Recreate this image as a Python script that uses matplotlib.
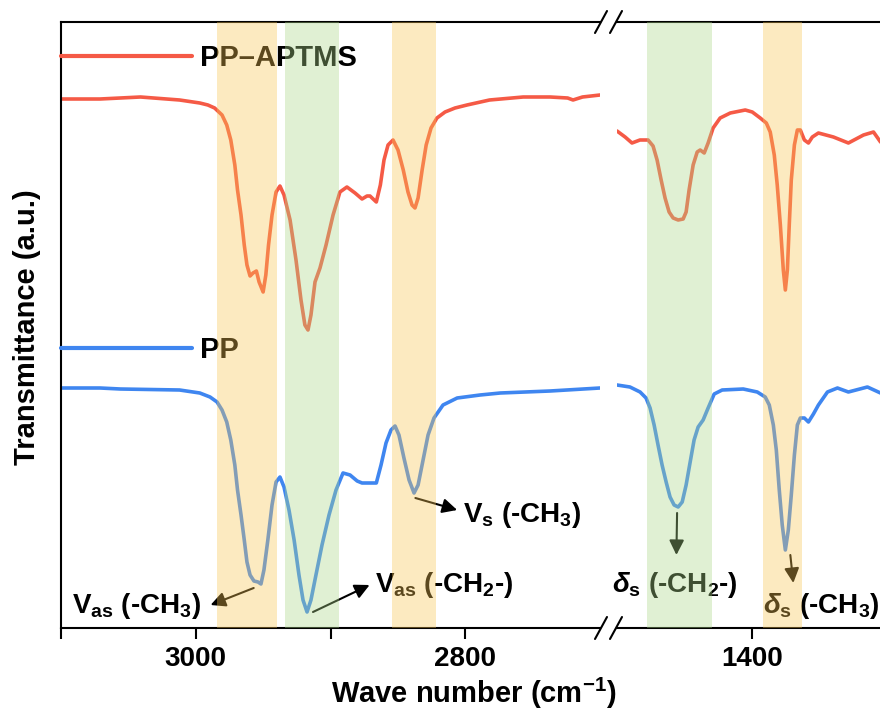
import matplotlib
matplotlib.use("Agg")
import matplotlib.pyplot as plt
from matplotlib.lines import Line2D

plt.rcParams["font.family"] = ["Liberation Sans", "DejaVu Sans"]
plt.rcParams["font.weight"] = "bold"
plt.rcParams["mathtext.fontset"] = "custom"
plt.rcParams["mathtext.rm"] = "Liberation Sans:bold"
plt.rcParams["mathtext.bf"] = "Liberation Sans:bold"
plt.rcParams["mathtext.it"] = "Liberation Sans:bold:italic"
plt.rcParams["lines.solid_joinstyle"] = "round"
plt.rcParams["lines.solid_capstyle"] = "round"

RED = "#F55A46"
BLUE = "#3F86F0"

# C-H stretching region (3100-2700 cm-1)
wn_apt_hi = [3100, 3071, 3041, 3012, 2997, 2991, 2986, 2980.5, 2977, 2974, 2971, 2969,
             2966.4, 2964, 2962, 2959.7, 2957.5, 2955, 2953, 2950, 2948, 2946, 2943.4,
             2940.4, 2937.5, 2934.5, 2930, 2925.6, 2921.9, 2919, 2916.7, 2914.5, 2911.5,
             2907.8, 2903.3, 2898.1, 2893, 2887.8, 2881.8, 2876.6, 2872.9, 2870.7, 2866,
             2863, 2860.3, 2857.3, 2853.6, 2849.9, 2846, 2842.5, 2839.5, 2837.3, 2835,
             2832, 2829, 2825.4, 2821, 2815, 2807.6, 2798.7, 2782, 2757, 2737, 2724,
             2720, 2713, 2700]
apt_hi = [5.29, 5.29, 5.31, 5.28, 5.25, 5.23, 5.20, 5.13, 5.03, 4.88, 4.63, 4.38,
          4.13, 3.83, 3.63, 3.52, 3.55, 3.57, 3.46, 3.36, 3.53, 3.83, 4.13,
          4.36, 4.42, 4.33, 4.08, 3.68, 3.28, 3.03, 2.98, 3.13, 3.46,
          3.60, 3.83, 4.13, 4.36, 4.41, 4.35, 4.29, 4.32, 4.32, 4.26,
          4.43, 4.68, 4.83, 4.88, 4.78, 4.58, 4.36, 4.23, 4.20, 4.30,
          4.58, 4.83, 5.00, 5.10, 5.16, 5.20, 5.23, 5.28, 5.31, 5.31, 5.30,
          5.28, 5.31, 5.33]

wn_pp_hi = [3100, 3071, 3056, 3012, 2997, 2989.4, 2984.2, 2980.5, 2977, 2974, 2971, 2969,
            2966.4, 2964, 2962, 2959.7, 2956.8, 2953.8, 2951.6, 2949.4, 2946.5, 2943.4,
            2940.4, 2937.5, 2934.5, 2930.8, 2927, 2923.4, 2920.4, 2917.4, 2914.5, 2910.8,
            2906.3, 2901.1, 2895.9, 2890.7, 2885.5, 2880.2, 2876.6, 2870.7, 2866, 2862.5,
            2858.8, 2855.1, 2852.1, 2849.2, 2845.5, 2841.7, 2838, 2835, 2831.3, 2827.6,
            2823.2, 2816.5, 2806, 2789, 2774, 2737, 2700]
pp_hi = [2.40, 2.40, 2.39, 2.38, 2.35, 2.31, 2.26, 2.18, 2.06, 1.88, 1.63, 1.38,
         1.13, 0.88, 0.66, 0.53, 0.47, 0.46, 0.44, 0.58, 0.88, 1.23,
         1.46, 1.51, 1.41, 1.18, 0.88, 0.53, 0.28, 0.16, 0.28, 0.53,
         0.83, 1.13, 1.38, 1.55, 1.53, 1.47, 1.45, 1.45, 1.45, 1.63,
         1.85, 1.98, 2.02, 1.93, 1.70, 1.48, 1.35, 1.43, 1.68, 1.93,
         2.10, 2.23, 2.30, 2.33, 2.35, 2.37, 2.40]

# C-H bending region (1500-1300 cm-1)
wn_apt_lo = [1500, 1494, 1488.9, 1483, 1477, 1473.3, 1470.3, 1467.3, 1464.4, 1461.4,
             1458.4, 1454.7, 1451, 1448.8, 1446.6, 1443.6, 1440.6, 1438.4, 1435.4, 1432.5,
             1428.8, 1423.6, 1416.1, 1405, 1399.8, 1393.9, 1389.4, 1386.5, 1383.5, 1381.3,
             1379, 1376.8, 1375.3, 1373.8, 1372.4, 1370.9, 1368.6, 1366.4, 1364.2, 1361.2,
             1358.2, 1355.3, 1350.8, 1339.7, 1328.6, 1317.4, 1310, 1304.8, 1300]
apt_lo = [4.97, 4.91, 4.85, 4.88, 4.88, 4.82, 4.68, 4.48, 4.30, 4.16,
          4.10, 4.08, 4.09, 4.16, 4.38, 4.63, 4.76, 4.78, 4.75, 4.85,
          5.00, 5.10, 5.15, 5.18, 5.16, 5.10, 5.05, 4.96, 4.73, 4.43,
          4.03, 3.58, 3.38, 3.58, 4.03, 4.48, 4.83, 4.98, 4.98, 4.88,
          4.85, 4.91, 4.95, 4.91, 4.85, 4.93, 4.96, 4.86, 4.83]

wn_pp_lo = [1500, 1490.4, 1482.9, 1478.5, 1475.5, 1472.5, 1469.6, 1466.6, 1463.6, 1460.7,
            1457.7, 1454.7, 1451.7, 1448.8, 1445.8, 1442.9, 1439.9, 1436.2, 1432.5, 1428,
            1422.1, 1406.5, 1396.1, 1390.2, 1387.2, 1384.2, 1382, 1379.8, 1377.6, 1375.3,
            1373.1, 1370.9, 1368.6, 1366.4, 1364.2, 1361.2, 1358.2, 1354.5, 1350.8, 1344.1,
            1336.7, 1328.6, 1314.5, 1304.8]
pp_lo = [2.43, 2.41, 2.36, 2.30, 2.20, 2.03, 1.83, 1.63, 1.46, 1.31,
         1.23, 1.21, 1.26, 1.43, 1.66, 1.88, 2.01, 2.08, 2.20, 2.34,
         2.38, 2.39, 2.36, 2.31, 2.23, 2.03, 1.78, 1.38, 1.03, 0.78,
         0.98, 1.33, 1.73, 2.03, 2.10, 2.10, 2.06, 2.14, 2.23, 2.36,
         2.40, 2.36, 2.41, 2.35]

# highlighted bands: (high, low, colour)
bands_hi = [(2984, 2940, "#F9C654"), (2934, 2894, "#ACD78A"), (2854, 2822, "#F9C654")]
bands_lo = [(1478, 1430, "#ACD78A"), (1392, 1363, "#F9C654")]

left_ticks = [3100, 3000, 2900, 2800]
left_labels = ["", "3000", "", "2800"]
right_ticks = [1400, 1300]
right_labels = ["1400", ""]

fig = plt.figure(figsize=(8.8, 7.11), dpi=100)
ax1 = fig.add_axes([61 / 880, 83 / 711, 539 / 880, 606 / 711])
ax2 = fig.add_axes([617 / 880, 83 / 711, 270 / 880, 606 / 711])

l_apt, = ax1.plot(wn_apt_hi, apt_hi, color=RED, lw=2.6, label="PP\u2013APTMS")
l_pp, = ax1.plot(wn_pp_hi, pp_hi, color=BLUE, lw=2.6, label="PP")
ax2.plot(wn_apt_lo, apt_lo, color=RED, lw=2.6)
ax2.plot(wn_pp_lo, pp_lo, color=BLUE, lw=2.6)

for hi, lo, c in bands_hi:
    ax1.axvspan(lo, hi, color=c, alpha=0.37, lw=0, zorder=6)
for hi, lo, c in bands_lo:
    ax2.axvspan(lo, hi, color=c, alpha=0.37, lw=0, zorder=6)

ax1.set_xlim(3100, 2700)
ax2.set_xlim(1500, 1300)
for ax in (ax1, ax2):
    ax.set_ylim(0, 6.06)
    ax.set_yticks([])
    ax.tick_params(axis="x", direction="out", length=8, width=1.5, labelsize=20, pad=5)
    for s in ax.spines.values():
        s.set_linewidth(1.5)
ax1.spines["right"].set_visible(False)
ax2.spines["left"].set_visible(False)
ax2.spines["right"].set_visible(False)
ax1.set_xticks(left_ticks, left_labels)
ax2.set_xticks(right_ticks, right_labels)

# legends placed by hand, one per trace
leg1 = ax1.legend(handles=[l_apt], loc="center left", bbox_to_anchor=(0, 0.941),
                  frameon=False, fontsize=21, handlelength=4.5, handletextpad=0.25,
                  borderpad=0, borderaxespad=0)
ax1.add_artist(leg1)
leg2 = ax1.legend(handles=[l_pp], loc="center left", bbox_to_anchor=(0, 0.459),
                  frameon=False, fontsize=21, handlelength=4.5, handletextpad=0.25,
                  borderpad=0, borderaxespad=0)
for lg in (leg1, leg2):
    lg.set_zorder(4)
    for h in lg.legend_handles:
        h.set_linewidth(3)

arrow = dict(arrowstyle="-|>", color="black", lw=1.5, mutation_scale=22, shrinkA=0, shrinkB=0)
ax1.annotate("", xy=(2989, 0.23), xytext=(2957, 0.40), arrowprops=arrow)
ax1.text(3092, 0.15, r"V$_\mathrm{as}$ (-CH$_\mathrm{3}$)", fontsize=20, va="baseline")
ax1.annotate("", xy=(2871, 0.43), xytext=(2913, 0.16), arrowprops=arrow)
ax1.text(2867, 0.36, r"V$_\mathrm{as}$ (-CH$_\mathrm{2}$-)", fontsize=20, va="baseline")
ax1.annotate("", xy=(2806, 1.18), xytext=(2837, 1.30), arrowprops=arrow)
ax1.text(2802, 1.06, r"V$_\mathrm{s}$ (-CH$_\mathrm{3}$)", fontsize=20, va="baseline")
ax2.annotate("", xy=(1456, 0.73), xytext=(1455.5, 1.15), arrowprops=arrow)
ax2.text(1504, 0.36, r"$\delta_\mathrm{s}$ (-CH$_\mathrm{2}$-)", fontsize=20, va="baseline",
         clip_on=False)
ax2.annotate("", xy=(1369.4, 0.45), xytext=(1371.6, 0.73), arrowprops=arrow)
ax2.text(1392, 0.15, r"$\delta_\mathrm{s}$ (-CH$_\mathrm{3}$)", fontsize=20, va="baseline",
         clip_on=False)

# break marks on the x axis
for xc in (601, 616):
    for yc in (22, 628):
        fig.add_artist(Line2D([(xc - 6) / 880, (xc + 6) / 880],
                              [(711 - yc - 11) / 711, (711 - yc + 11) / 711],
                              color="black", lw=1.5, transform=fig.transFigure))

fig.text(474 / 880, 18 / 711, r"Wave number (cm$^{-1}$)", fontsize=21,
         ha="center", va="center")
fig.text(27 / 880, (711 - 327) / 711, "Transmittance (a.u.)", fontsize=21,
         rotation=90, ha="center", va="center")

fig.savefig("out.png", dpi=100)
